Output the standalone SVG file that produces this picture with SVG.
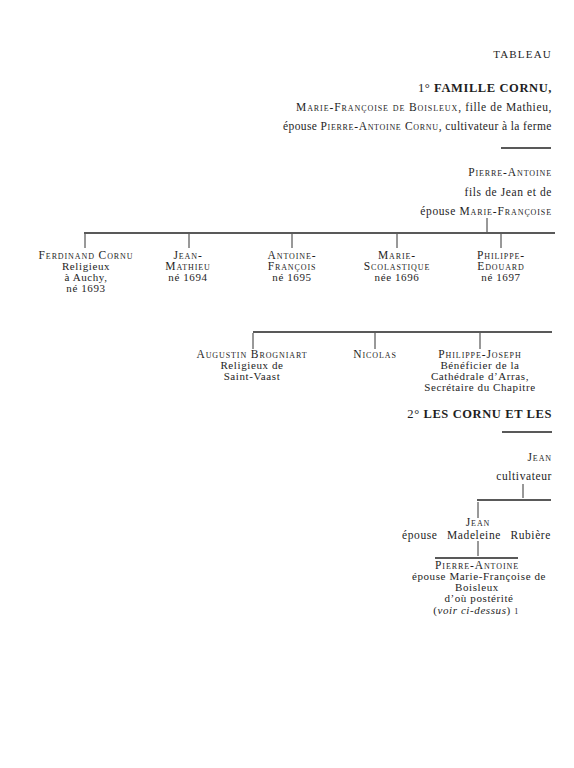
<svg xmlns="http://www.w3.org/2000/svg" width="574" height="768" viewBox="0 0 574 768">
<style>
text{font-family:"Liberation Serif","Times New Roman",serif;font-size:11px;fill:#1e1e1e;letter-spacing:0.6px}
.sc{font-variant:small-caps;font-size:11.5px;letter-spacing:0.9px}
.b{font-weight:bold;font-size:12.5px;letter-spacing:0.6px}
.r{text-anchor:end}
.m{text-anchor:middle}
.ln{stroke:#222;stroke-width:1.3;fill:none}
.tk{stroke:#333;stroke-width:1;fill:none}
</style>
<rect width="574" height="768" fill="#fff"/>
<g id="header">
<text x="552" y="58" class="r" style="font-size:11px;letter-spacing:1.2px">TABLEAU</text>
<text x="552" y="92" class="r b"><tspan style="font-weight:normal">1° </tspan>FAMILLE CORNU,</text>
<text x="552" y="111" class="r" style="font-size:11.5px" textLength="256" lengthAdjust="spacing"><tspan class="sc">Marie-Françoise de Boisleux</tspan>, fille de Mathieu,</text>
<text x="552" y="130" class="r" style="font-size:11.5px" textLength="269" lengthAdjust="spacing">épouse <tspan class="sc">Pierre-Antoine Cornu</tspan>, cultivateur à la ferme</text>
</g>
<g id="parents">
<text x="552" y="176" class="r sc">Pierre-Antoine</text>
<text x="552" y="196" class="r" style="font-size:11.5px">fils de Jean et de</text>
<text x="552" y="215" class="r" style="font-size:11.5px">épouse <tspan class="sc">Marie-Françoise</tspan></text>
</g>
<g id="ferdinand">
<text x="86" y="259" class="m sc">Ferdinand Cornu</text>
<text x="86" y="270" class="m">Religieux</text>
<text x="86" y="281" class="m">à Auchy,</text>
<text x="86" y="292" class="m">né 1693</text>
</g>
<g id="jean-mathieu">
<text x="188" y="259" class="m sc">Jean-</text>
<text x="188" y="270" class="m sc">Mathieu</text>
<text x="188" y="281" class="m">né 1694</text>
</g>
<g id="antoine-francois">
<text x="292" y="259" class="m sc">Antoine-</text>
<text x="292" y="270" class="m sc">François</text>
<text x="292" y="281" class="m">né 1695</text>
</g>
<g id="marie-scolastique">
<text x="397" y="259" class="m sc">Marie-</text>
<text x="397" y="270" class="m sc">Scolastique</text>
<text x="397" y="281" class="m">née 1696</text>
</g>
<g id="philippe-edouard">
<text x="501" y="259" class="m sc">Philippe-</text>
<text x="501" y="270" class="m sc">Edouard</text>
<text x="501" y="281" class="m">né 1697</text>
</g>
<g id="augustin">
<text x="252" y="358" class="m sc">Augustin Brogniart</text>
<text x="252" y="369" class="m">Religieux de</text>
<text x="252" y="380" class="m">Saint-Vaast</text>
</g>
<g id="nicolas">
<text x="375" y="358" class="m sc">Nicolas</text>
</g>
<g id="philippe-joseph">
<text x="480" y="358" class="m sc">Philippe-Joseph</text>
<text x="480" y="369" class="m">Bénéficier de la</text>
<text x="480" y="380" class="m">Cathédrale d’Arras,</text>
<text x="480" y="391" class="m">Secrétaire du Chapitre</text>
</g>
<g id="section2">
<text x="552" y="418" class="r b"><tspan style="font-weight:normal">2° </tspan>LES CORNU ET LES</text>
</g>
<g id="jean-sr">
<text x="552" y="461" class="r sc">Jean</text>
<text x="552" y="480" class="r" style="font-size:11.5px">cultivateur</text>
</g>
<g id="jean-jr">
<text x="478" y="526" class="m sc">Jean</text>
<text x="402" y="539" style="font-size:11.5px">épouse</text>
<text x="474" y="539" class="m" style="font-size:11.5px">Madeleine</text>
<text x="551" y="539" class="r" style="font-size:11.5px">Rubière</text>
</g>
<g id="pierre-antoine">
<text x="477" y="569" class="m sc">Pierre-Antoine</text>
<text x="479" y="580" class="m">épouse Marie-Françoise de</text>
<text x="477" y="591" class="m">Boisleux</text>
<text x="479" y="602" class="m">d’où postérité</text>
<text x="476" y="614" class="m">(<tspan font-style="italic">voir ci-dessus</tspan>) <tspan style="font-size:8px">1</tspan></text>
</g>
<g id="connectors">
<line class="ln" x1="501" y1="148" x2="551" y2="148"/>
<line class="tk" x1="487" y1="218" x2="487" y2="232"/>
<line class="ln" x1="84" y1="233" x2="555" y2="233"/>
<line class="tk" x1="85" y1="234" x2="85" y2="248"/>
<line class="tk" x1="189" y1="234" x2="189" y2="248"/>
<line class="tk" x1="292" y1="234" x2="292" y2="248"/>
<line class="tk" x1="397" y1="234" x2="397" y2="248"/>
<line class="tk" x1="501" y1="234" x2="501" y2="248"/>
<line class="ln" x1="253" y1="332" x2="552" y2="332"/>
<line class="tk" x1="253" y1="333" x2="253" y2="349"/>
<line class="tk" x1="375" y1="333" x2="375" y2="349"/>
<line class="tk" x1="480" y1="333" x2="480" y2="349"/>
<line class="ln" x1="502" y1="432" x2="552" y2="432"/>
<line class="tk" x1="523" y1="484" x2="523" y2="498"/>
<line class="ln" x1="477" y1="500" x2="551" y2="500"/>
<line class="tk" x1="478" y1="502" x2="478" y2="518"/>
<line class="tk" x1="478" y1="541" x2="478" y2="556"/>
<line class="ln" x1="435" y1="558" x2="518" y2="558"/>
</g>
</svg>
